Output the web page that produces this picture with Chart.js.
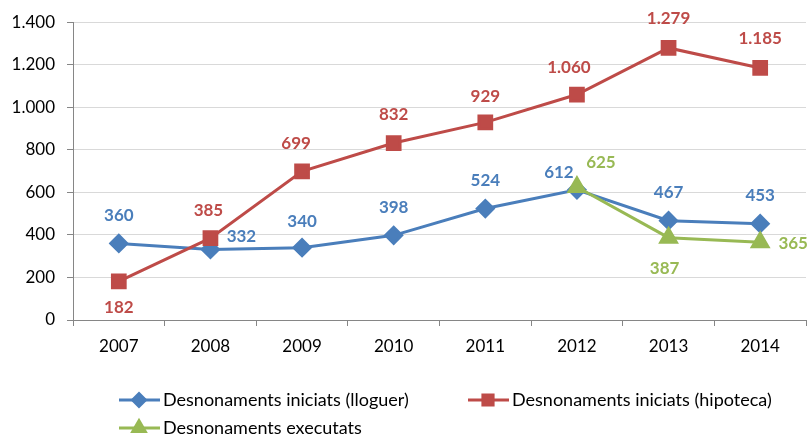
<!DOCTYPE html>
<html>
<head>
<meta charset="utf-8">
<script src="https://cdn.jsdelivr.net/npm/chart.js@4/dist/chart.umd.min.js"></script>
<style>
  html, body { margin: 0; padding: 0; background: #fff; overflow: hidden; }
  #wrap { width: 810px; height: 437px; overflow: hidden; }
</style>
</head>
<body>
<!-- canvas a bit wider than the window: line charts reserve point overflow on the right -->
<div id="wrap"><canvas id="chart" width="818" height="437"></canvas></div>
<script>
const years = ["2007", "2008", "2009", "2010", "2011", "2012", "2013", "2014"];
const lloguer = [360, 332, 340, 398, 524, 612, 467, 453];
const hipoteca = [182, 385, 699, 832, 929, 1060, 1279, 1185];
const executats = [null, null, null, null, null, 625, 387, 365];
const seriesNames = [
    "Desnonaments iniciats (lloguer)",
    "Desnonaments iniciats (hipoteca)",
    "Desnonaments executats"
];

// label offsets [dx, dy] from each point
const labelOffsets = [
    [[0,-28],[31,-13],[0,-26],[0,-28],[0,-28],[-18,-17],[0,-28],[0,-28]],
    [[0,26],[-2,-28],[-6,-28],[0,-29],[0,-26],[-8,-27],[0,-29],[0,-29]],
    [null,null,null,null,null,[24,-25],[-4,31],[33,1]]
];

const blue = "#4A7EBB", red = "#BE4B48", green = "#98B954";
const fontFam = "Lato, 'Open Sans', sans-serif";

function fmt(v) {
    return v.toString().replace(/\B(?=(\d{3})+(?!\d))/g, ".");
}

// data labels
const valueLabels = {
    id: 'valueLabels',
    afterDatasetsDraw(chart) {
        const ctx = chart.ctx;
        ctx.save();
        ctx.font = "bold 17px " + fontFam;
        ctx.textAlign = "center";
        ctx.textBaseline = "middle";
        chart.data.datasets.forEach((ds, i) => {
            const meta = chart.getDatasetMeta(i);
            meta.data.forEach((pt, j) => {
                const v = ds.data[j];
                const off = labelOffsets[i][j];
                if (v == null || !off) return;
                ctx.fillStyle = ds.borderColor;
                ctx.fillText(fmt(v), pt.x + off[0], pt.y + off[1]);
            });
        });
        ctx.restore();
    }
};

// legend with line + marker, Excel style
const lineLegend = {
    id: 'lineLegend',
    afterDraw(chart) {
        const ctx = chart.ctx;
        const spots = [[119, 400], [468, 400], [119, 428]];
        ctx.save();
        ctx.font = "18px " + fontFam;
        ctx.textBaseline = "middle";
        ctx.textAlign = "left";
        chart.data.datasets.forEach((ds, i) => {
            const [x, y] = spots[i];
            ctx.strokeStyle = ds.borderColor;
            ctx.lineWidth = 3;
            ctx.beginPath();
            ctx.moveTo(x, y);
            ctx.lineTo(x + 41, y);
            ctx.stroke();
            Chart.helpers.drawPoint(ctx, {
                pointStyle: ds.pointStyle,
                radius: ds.pointRadius * 0.8,
                borderWidth: 1
            }, x + 20, y);
            ctx.fillStyle = ds.borderColor;
            ctx.fill();
            ctx.fillStyle = "#000";
            ctx.fillText(ds.label, x + 44, y);
        });
        ctx.restore();
    }
};

new Chart(document.getElementById('chart'), {
    type: 'line',
    data: {
        labels: years,
        datasets: [{
            label: seriesNames[0],
            data: lloguer,
            borderColor: blue,
            backgroundColor: blue,
            pointStyle: 'rectRot',
            pointRadius: 8,
            borderWidth: 3,
            order: 2
        }, {
            label: seriesNames[1],
            data: hipoteca,
            borderColor: red,
            backgroundColor: red,
            pointStyle: 'rect',
            pointRadius: 9,
            borderWidth: 3,
            order: 1
        }, {
            label: seriesNames[2],
            data: executats,
            borderColor: green,
            backgroundColor: green,
            pointStyle: 'triangle',
            pointRadius: 9,
            borderWidth: 3,
            order: 0
        }]
    },
    options: {
        responsive: false,
        animation: false,
        layout: { padding: { left: 0, right: 0, top: 20, bottom: 77 } },
        plugins: {
            legend: { display: false },
            tooltip: { enabled: false }
        },
        scales: {
            x: {
                offset: true,
                afterFit(scale) { scale.height = 40; },
                border: { color: "#868686", width: 1 },
                grid: { drawOnChartArea: false, drawTicks: true, tickLength: 6, color: "#868686", offset: true },
                ticks: { color: "#000", font: { family: fontFam, size: 17 }, padding: 10 }
            },
            y: {
                min: 0,
                max: 1400,
                afterFit(scale) { scale.width = 73; },
                border: { color: "#868686", width: 1 },
                grid: { color: "#D9D9D9", tickLength: 6, tickColor: "#868686" },
                ticks: {
                    stepSize: 200,
                    color: "#000",
                    font: { family: fontFam, size: 17 },
                    padding: 12,
                    callback: v => fmt(v)
                }
            }
        }
    },
    plugins: [valueLabels, lineLegend]
});
</script>
</body>
</html>
